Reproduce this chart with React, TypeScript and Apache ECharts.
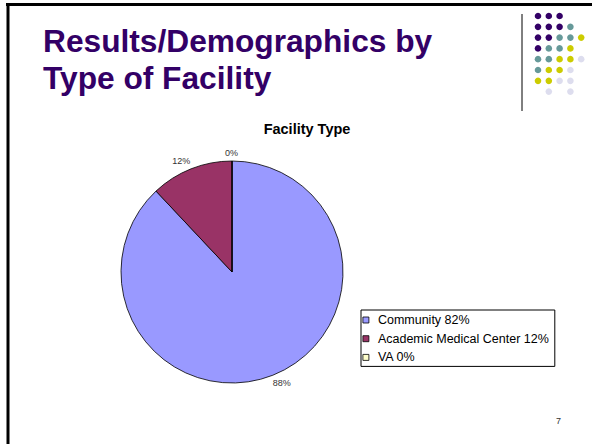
import React, { useEffect, useRef } from "react";
import * as echarts from "echarts";

const categories = ["Community", "Academic Medical Center", "VA"];
const values = [88, 12, 0];
const legendPercents = ["82%", "12%", "0%"];
const sliceColors = ["#9999FF", "#993366", "#FFFFCC"];
const titleLines = ["Results/Demographics by", "Type of Facility"];
const chartTitle = "Facility Type";
const pageNumber = "7";

// decorative dot grid: P purple, T teal, Y yellow, L lavender
const dotPattern = ["PPP..", "PPPT.", "PPTTY", "PTTY.", "TTYYL", "TYYL.", "YYLL.", ".L.L."];
const dotColors: Record<string, string> = {
  P: "#330066",
  T: "#669999",
  Y: "#CCCC00",
  L: "#DDDDEE",
};
// small label nudges (px) to mimic the original label placement
const labelNudgeX = [-3, 2, 6];

export default function App() {
  const ref = useRef<HTMLDivElement>(null);

  useEffect(() => {
    if (!ref.current) return;
    const chart = echarts.init(ref.current, null, { renderer: "svg" });

    const dots: any[] = [];
    dotPattern.forEach((row, r) => {
      row.split("").forEach((c, col) => {
        if (c === ".") return;
        dots.push({
          type: "circle",
          shape: { cx: 538 + col * 10.8, cy: 16 + r * 10.8, r: 3.3 },
          style: { fill: dotColors[c] },
          silent: true,
        });
      });
    });

    const option: any = {
      animation: false,
      backgroundColor: "#ffffff",
      title: {
        text: chartTitle,
        left: 302,
        top: 116,
        textAlign: "center",
        textStyle: {
          fontFamily: "Liberation Sans, Arial, sans-serif",
          fontSize: 14.5,
          fontWeight: "bold",
          color: "#000",
        },
      },
      legend: {
        orient: "vertical",
        left: 361,
        top: 310,
        padding: [3.5, 6, 2.5, 1.5],
        itemGap: 5.7,
        itemWidth: 6,
        itemHeight: 6,
        icon: "rect",
        borderColor: "#000",
        borderWidth: 1,
        backgroundColor: "#fff",
        data: categories,
        itemStyle: { borderColor: "#000", borderWidth: 0.8 },
        formatter: (name: string) => {
          const i = categories.indexOf(name);
          return name + " " + legendPercents[i];
        },
        textStyle: {
          fontFamily: "Liberation Sans, Arial, sans-serif",
          fontSize: 12.5,
          color: "#000",
          padding: [0, 0, 0, 4],
        },
      },
      series: [
        {
          type: "pie",
          center: [232, 272],
          radius: 111,
          startAngle: 90,
          clockwise: true,
          avoidLabelOverlap: false,
          minShowLabelAngle: 0,
          stillShowZeroSum: true,
          data: categories.map((name, i) => ({
            name,
            value: values[i],
            itemStyle: { color: sliceColors[i] },
          })),
          itemStyle: { borderColor: "#000", borderWidth: 0.8 },
          label: {
            show: true,
            position: "outside",
            formatter: "{c}%",
            fontFamily: "Liberation Sans, Arial, sans-serif",
            fontSize: 9,
            color: "#333",
            distanceToLabelLine: 0,
          },
          labelLine: { show: false, length: 8, length2: 0 },
          labelLayout: (params: any) => ({ dx: labelNudgeX[params.dataIndex] || 0 }),
          emphasis: { disabled: true },
        },
      ],
      graphic: [
        // slide border
        { type: "rect", shape: { x: 6, y: 3, width: 586, height: 3 }, style: { fill: "#000" }, silent: true },
        { type: "rect", shape: { x: 6.5, y: 3, width: 3, height: 441 }, style: { fill: "#000" }, silent: true },
        {
          type: "text",
          left: 43,
          top: 22,
          style: {
            text: titleLines.join("\n"),
            fontFamily: "Liberation Sans, Arial, sans-serif",
            fontSize: 31.7,
            fontWeight: "bold",
            lineHeight: 37,
            fill: "#330066",
          },
          silent: true,
        },
        {
          type: "line",
          shape: { x1: 522, y1: 14, x2: 522, y2: 111 },
          style: { stroke: "#000", lineWidth: 1 },
          silent: true,
        },
        ...dots,
        {
          type: "text",
          left: 556,
          top: 416,
          style: {
            text: pageNumber,
            fontFamily: "Liberation Sans, Arial, sans-serif",
            fontSize: 9,
            fill: "#333",
          },
          silent: true,
        },
      ],
    };

    chart.setOption(option);
    return () => chart.dispose();
  }, []);

  return (
    <div
      ref={ref}
      style={{ position: "fixed", left: 0, top: 0, width: 592, height: 444 }}
    />
  );
}
